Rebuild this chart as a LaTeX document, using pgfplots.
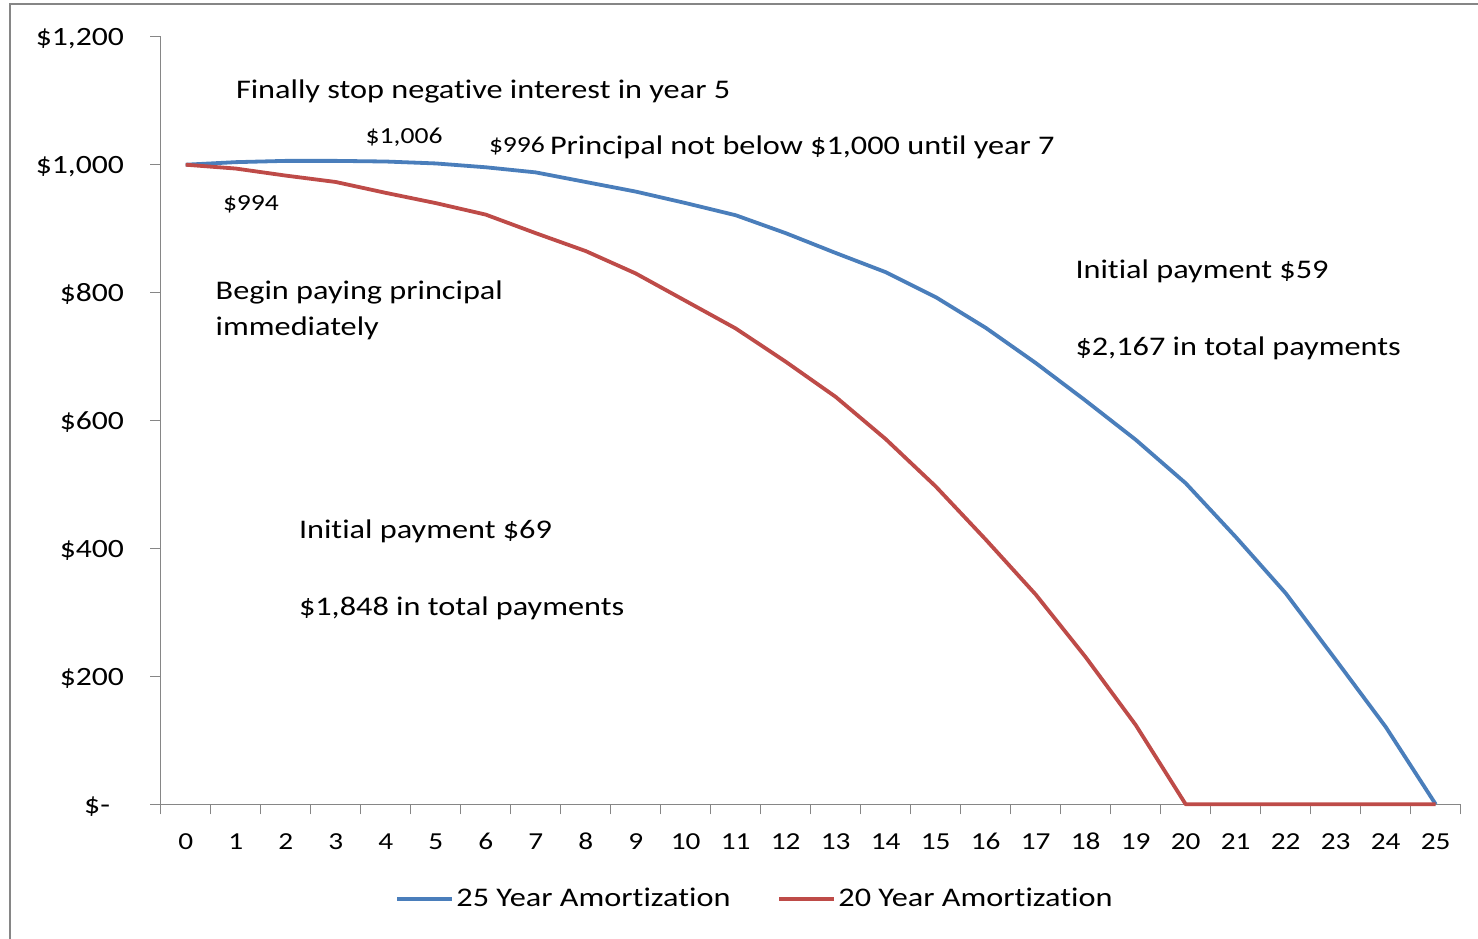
\documentclass[border=0pt]{standalone}
\usepackage{fontspec}
\setmainfont{Carlito}[FakeStretch=1.2, Ligatures=NoCommon]
\usepackage{pgfplots}
\pgfplotsset{compat=1.18}
\definecolor{bl}{HTML}{4A7EBB}
\definecolor{rd}{HTML}{BE4B48}
\definecolor{ax}{HTML}{868686}
\newcommand{\mainf}{\fontsize{13.45pt}{16pt}\selectfont}
\newcommand{\labf}{\fontsize{11.5pt}{13pt}\selectfont}
\begin{document}
\begin{tikzpicture}
\path[use as bounding box] (-80.35pt,-66.85pt) rectangle (658.65pt,402.15pt);
\draw[ax, line width=1pt] (-75.35pt,400.15pt) rectangle (700pt,-100pt);
\begin{axis}[
  at={(0pt,0pt)}, anchor=south west,
  scale only axis, width=650pt, height=383.75pt,
  xmin=-0.5, xmax=25.5, ymin=0, ymax=1200,
  axis x line*=bottom, axis y line*=left,
  axis line style={draw=ax, line width=0.6pt, -},
  tick align=outside,
  major tick length=5.3pt, minor tick length=5pt,
  xtick={0,...,25},
  major x tick style={draw=none},
  minor xtick={-0.5,0.5,...,25.5},
  minor x tick style={draw=ax, line width=0.6pt},
  ytick={0,200,...,1200},
  ytick style={draw=ax, line width=0.6pt},
  yticklabels={{\$-\rule{7pt}{0pt}},{\$200},{\$400},{\$600},{\$800},{\$1,000},{\$1,200}},
  /pgf/number format/assume math mode=true,
  xticklabel style={font=\fontsize{12.2pt}{14pt}\selectfont, anchor=base, inner sep=0pt, yshift=-17.25pt},
  yticklabel style={font=\fontsize{13.2pt}{15pt}\selectfont, anchor=base east, inner sep=0pt, xshift=-12.85pt, yshift=-4.6pt},
  legend columns=2,
  legend style={draw=none, fill=none, at={(0.18023,-0.1234)}, anchor=west, inner sep=0pt, font=\mainf,
    nodes={inner sep=0pt},
    /tikz/every odd column/.append style={column sep=1pt},
    /tikz/every even column/.append style={column sep=23.5pt}},
  legend image code/.code={\draw[#1, line width=2pt] (0pt,0pt) -- (27.5pt,0pt);},
  clip=false,
]
\addplot[bl, line width=1.9pt, line join=round] coordinates {
(0,1000) (1,1004) (2,1006) (3,1006) (4,1005) (5,1002) (6,996) (7,988) (8,973)
(9,958) (10,940) (11,921) (12,893) (13,862) (14,832) (15,793) (16,745) (17,690)
(18,631) (19,570) (20,502) (21,418) (22,330) (23,226) (24,121) (25,0)};
\addlegendentry{25 Year Amortization}
\addplot[rd, line width=1.9pt, line join=round] coordinates {
(0,1000) (1,994) (2,983) (3,973) (4,956) (5,940) (6,922) (7,893) (8,865)
(9,830) (10,787) (11,744) (12,692) (13,637) (14,571) (15,497) (16,414) (17,328)
(18,230) (19,124) (20,0) (21,0) (22,0) (23,0) (24,0) (25,0)};
\addlegendentry{20 Year Amortization}
\end{axis}
\begin{scope}[every node/.style={anchor=base west, inner sep=0pt}]
\node[font=\mainf] at (37.45pt,353.0pt) {Finally stop negative interest in year 5};
\node[font=\labf] at (102.3pt,330.15pt) {\$1,006};
\node[font=\labf] at (163.95pt,325.8pt) {\$996};
\node[font=\mainf] at (194.45pt,324.9pt) {Principal not below \$1,000 until year 7};
\node[font=\labf] at (30.95pt,296.8pt) {\$994};
\node[font=\mainf] at (27.3pt,252.15pt) {Begin paying principal};
\node[font=\mainf] at (27.3pt,234.15pt) {immediately};
\node[font=\mainf] at (457.2pt,263.0pt) {Initial payment \$59};
\node[font=\mainf] at (457.2pt,224.15pt) {\$2,167 in total payments};
\node[font=\mainf] at (68.95pt,133.0pt) {Initial payment \$69};
\node[font=\mainf] at (68.95pt,94.65pt) {\$1,848 in total payments};
\end{scope}
\end{tikzpicture}
\end{document}
